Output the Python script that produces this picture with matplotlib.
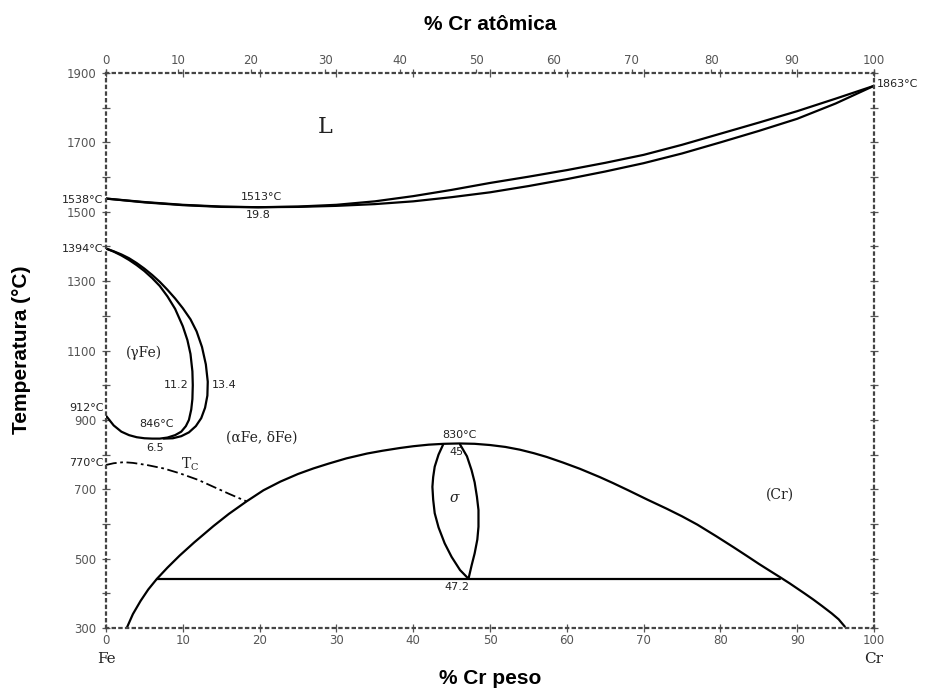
import numpy as np
import matplotlib
matplotlib.use("Agg")
import matplotlib.pyplot as plt

# ---------------- data (wt% Cr, temperature °C) ----------------
liq_w = [0, 5, 10, 15, 19.8, 25, 30, 35, 40, 45, 50, 55, 60, 65, 70, 75, 80, 85, 90, 95, 100]
liq_T = [1538, 1528, 1520, 1515, 1513, 1515, 1520, 1530, 1545, 1563, 1583, 1601, 1620, 1641,
         1664, 1693, 1725, 1757, 1790, 1826, 1863]
sol_w = [0, 5, 10, 15, 19.8, 25, 30, 35, 40, 45, 50, 55, 60, 65, 70, 75, 80, 85, 90, 95, 100]
sol_T = [1538, 1527, 1519, 1514, 1513, 1514, 1517, 1522, 1530, 1542, 1556, 1574, 1594, 1616,
         1640, 1668, 1700, 1733, 1768, 1812, 1863]

gam_in_w = [0, 1, 2, 3, 4, 5, 6, 7, 8, 9, 10, 10.6, 11.0, 11.25, 11.3, 11.25, 11.1, 10.8,
            10.4, 9.8, 9.0, 8.0, 7.0, 6.0, 5.0, 4.0, 3.0, 2.0, 1.0, 0]
gam_in_T = [1394, 1385, 1374, 1361, 1346, 1329, 1309, 1286, 1256, 1220, 1170, 1130, 1090,
            1040, 1000, 960, 930, 900, 882, 866, 856, 849, 846, 846, 847, 850, 856, 866, 884, 912]
gam_out_w = [0, 1, 2, 3, 4, 5, 6, 7, 8, 9, 10, 11, 11.8, 12.5, 13.0, 13.25, 13.2, 12.9,
             12.4, 11.7, 10.8, 9.8, 8.7, 7.5]
gam_out_T = [1394, 1386, 1377, 1366, 1352, 1336, 1318, 1298, 1275, 1250, 1222, 1190, 1155,
             1110, 1060, 1010, 970, 935, 905, 882, 864, 853, 847, 846]

tc_w = [0, 1, 2.3, 3.5, 5.3, 7.5, 9.6, 12, 14, 16, 18.3]
tc_T = [770, 775, 778, 776, 770, 760, 746, 727, 707, 687, 665]

dome_w = [2.7, 3.5, 4.5, 5.5, 6.6, 8, 9.6, 11.5, 14, 16, 18.3, 20.5, 22.7, 25, 27, 29, 31.3,
          34, 36, 38.3, 40, 42, 44, 46, 48, 50, 52, 53.9, 55.7, 57.4, 59.5, 61.7, 64.3, 66,
          68, 70.5, 73, 75, 77, 79.5, 81.7, 83.5, 85, 86.5, 87.8, 89, 90, 91, 92.1, 93.2,
          94.5, 95.4, 96.2]
dome_T = [300, 340, 378, 411, 441, 474, 509, 547, 594, 629, 665, 697, 722, 744, 760, 774, 789,
          803, 811, 819, 824, 828.5, 831, 832, 831, 827.5, 822, 814, 804, 793, 777, 759, 735,
          718, 697, 670, 644, 622, 598, 564, 533, 507, 485, 464, 446, 429, 414, 399, 382, 364,
          342, 325, 304]

eut_w = [6.6, 87.8]
eut_T = [442, 442]

sig_w = [43.9, 43.3, 42.8, 42.6, 42.5, 42.6, 42.8, 43.3, 44.1, 45.0, 46.1, 47.2,
         47.6, 48.0, 48.35, 48.5, 48.5, 48.3, 48.0, 47.6, 47.0, 46.1]
sig_T = [829, 800, 765, 735, 707, 670, 631, 590, 544, 505, 467, 442,
         480, 515, 555, 592, 640, 678, 720, 755, 795, 829]

x_ticks = list(range(0, 101, 10))
y_ticks = list(range(300, 1901, 100))
y_labels = [str(t) if (t - 300) % 200 == 0 else "" for t in y_ticks]
at_ticks = list(range(0, 101, 10))

M_CR, M_FE = 51.996, 55.845


def wt2at(w):
    w = np.clip(np.asarray(w, dtype=float), 0, 100)
    a = w / M_CR
    b = (100 - w) / M_FE
    return 100 * a / (a + b)


def at2wt(a):
    a = np.clip(np.asarray(a, dtype=float), 0, 100)
    m1 = a * M_CR
    m2 = (100 - a) * M_FE
    return 100 * m1 / (m1 + m2)


# ---------------- figure ----------------
fig = plt.figure(figsize=(9.31, 6.93), dpi=100)
ax = fig.add_axes([106 / 931, 65 / 693, 768 / 931, 555 / 693])
ax.set_xlim(0, 100)
ax.set_ylim(300, 1900)

lw = 1.6
k = "black"
for xs, ys in [(liq_w, liq_T), (sol_w, sol_T), (gam_in_w, gam_in_T), (gam_out_w, gam_out_T),
               (dome_w, dome_T), (eut_w, eut_T), (sig_w, sig_T)]:
    ax.plot(xs, ys, color=k, lw=lw, solid_joinstyle="round", solid_capstyle="round")
ax.plot(tc_w, tc_T, color=k, lw=1.3, linestyle=(0, (6, 2, 1.5, 2)))

# spines dotted
for s in ax.spines.values():
    s.set_linestyle((0, (1, 2)))
    s.set_linewidth(1.6)
    s.set_color("#444444")

ax.set_xticks(x_ticks)
ax.set_xticklabels([str(t) for t in x_ticks])
ax.set_yticks(y_ticks)
ax.set_yticklabels(y_labels)
ax.tick_params(axis="both", direction="inout", length=6, width=0.9, colors="#555555",
               labelsize=8.5, labelcolor="#555555")
ax.tick_params(axis="x", top=True, pad=1)
ax.tick_params(axis="y", right=True, pad=4)

sec = ax.secondary_xaxis("top", functions=(wt2at, at2wt))
sec.set_xticks(at_ticks)
sec.set_xticklabels([str(t) for t in at_ticks])
sec.tick_params(direction="out", length=3, width=0.9, colors="#555555", labelsize=8.5,
                labelcolor="#555555", pad=1)
for s in sec.spines.values():
    s.set_visible(False)

# axis labels
fig.text(0.5 * (106 + 874) / 931, 1 - 25 / 693, "% Cr atômica", ha="center", va="center",
         fontsize=15, fontweight="bold", family="Liberation Sans")
fig.text(490 / 931, 1 - 678 / 693, "% Cr peso", ha="center", va="center",
         fontsize=15, fontweight="bold", family="Liberation Sans")
fig.text(22 / 931, 1 - 350 / 693, "Temperatura (°C)", ha="center", va="center",
         rotation=90, fontsize=15, fontweight="bold", family="Liberation Sans")

# annotations
af = dict(fontsize=8, color="#222222", family="DejaVu Sans")
ax.text(-0.3, 1534, "1538°C", ha="right", va="center", **af)
ax.text(-0.3, 1394, "1394°C", ha="right", va="center", **af)
ax.text(-0.3, 934, "912°C", ha="right", va="center", **af)
ax.text(-0.3, 777, "770°C", ha="right", va="center", **af)
ax.text(100.4, 1867, "1863°C", ha="left", va="center", **af)
ax.text(20.3, 1542, "1513°C", ha="center", va="center", **af)
ax.text(19.8, 1490, "19.8", ha="center", va="center", **af)
ax.text(9.2, 1000, "11.2", ha="center", va="center", **af)
ax.text(15.4, 1000, "13.4", ha="center", va="center", **af)
ax.text(6.6, 888, "846°C", ha="center", va="center", **af)
ax.text(6.4, 818, "6.5", ha="center", va="center", **af)
ax.text(46.0, 856, "830°C", ha="center", va="center", **af)
ax.text(45.6, 807, "45", ha="center", va="center", **af)
ax.text(45.7, 418, "47.2", ha="center", va="center", **af)

sf = dict(color="#222222", family="DejaVu Serif")
ax.text(28.5, 1744, "L", ha="center", va="center", fontsize=16, **sf)
ax.text(5.0, 1093, "(γFe)", ha="center", va="center", fontsize=10, **sf)
ax.text(20.3, 850, "(αFe, δFe)", ha="center", va="center", fontsize=10, **sf)
ax.text(11.0, 772, "T$_\\mathregular{C}$", ha="center", va="center", fontsize=10, **sf)
ax.text(45.4, 675, "σ", ha="center", va="center", fontsize=10, style="italic", **sf)
ax.text(87.8, 683, "(Cr)", ha="center", va="center", fontsize=10, **sf)
ax.text(0, 210, "Fe", ha="center", va="center", fontsize=11, **sf)
ax.text(100, 210, "Cr", ha="center", va="center", fontsize=11, **sf)

fig.savefig("out.png", dpi=100, facecolor="white")
